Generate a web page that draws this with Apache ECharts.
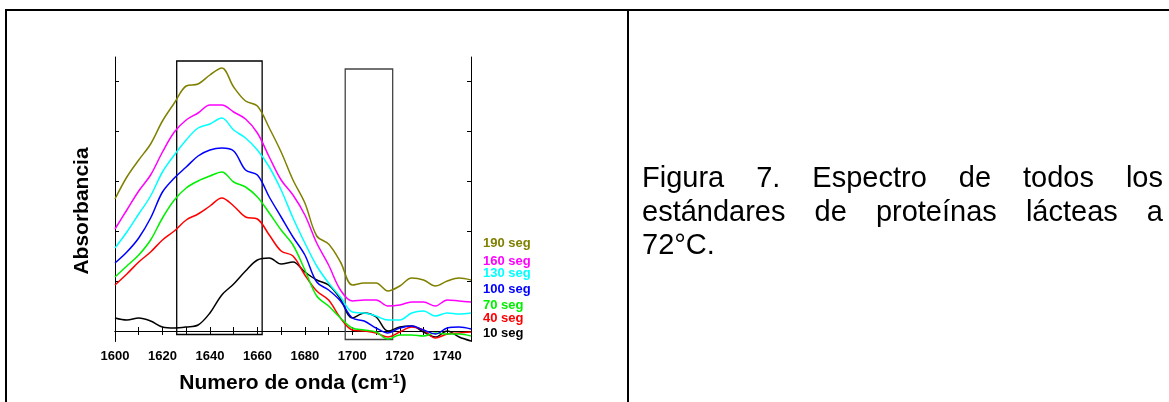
<!DOCTYPE html>
<html><head><meta charset="utf-8">
<script src="https://cdn.jsdelivr.net/npm/echarts@6/dist/echarts.min.js"></script>
<style>
html,body{margin:0;padding:0;background:#fff;width:1169px;height:402px;overflow:hidden;}
#chart{position:absolute;left:0;top:0;width:1169px;height:402px;}
.b{position:absolute;background:#000;}
.cap{position:absolute;left:642px;top:161px;width:521px;font-family:'Liberation Sans',Arial,sans-serif;font-size:29px;color:#000;line-height:33.5px;}
.cap div{text-align:justify;text-align-last:justify;white-space:nowrap;}
.cap div.last{text-align:left;text-align-last:left;}
</style></head>
<body>
<div id="chart"></div>
<div class="b" style="left:5px;top:9px;width:1164px;height:2px"></div>
<div class="b" style="left:5px;top:9px;width:2px;height:393px"></div>
<div class="b" style="left:627px;top:9px;width:2px;height:393px"></div>
<div class="cap">
<div>Figura 7. Espectro de todos los</div>
<div>estándares de proteínas lácteas a</div>
<div class="last">72°C.</div>
</div>
<script>
const wavenumbers = [1600,1605,1610,1615,1620,1625,1630,1635,1640,1645,1650,1655,1660,1665,1670,1675,1680,1685,1690,1695,1700,1705,1710,1715,1720,1725,1730,1735,1740,1745,1750];
const seg190 = [2.64,3.08,3.42,3.74,4.20,4.56,4.90,4.94,5.12,5.26,4.88,4.60,4.50,4.06,3.58,3.02,2.56,1.90,1.74,1.38,0.92,0.96,0.96,0.80,0.90,1.06,1.02,0.90,1.00,1.06,1.02];
const seg160 = [2.04,2.42,2.80,3.12,3.58,3.98,4.22,4.36,4.52,4.52,4.38,4.24,3.96,3.48,3.02,2.72,2.32,1.76,1.32,0.82,0.60,0.62,0.62,0.50,0.52,0.58,0.58,0.50,0.62,0.60,0.58];
const seg130 = [1.66,1.98,2.34,2.70,3.18,3.52,3.82,4.06,4.14,4.26,4.02,3.86,3.62,3.28,2.82,2.26,1.76,1.30,0.96,0.68,0.38,0.36,0.30,0.22,0.22,0.36,0.40,0.30,0.36,0.34,0.36];
const seg100 = [1.36,1.58,1.86,2.26,2.78,3.06,3.28,3.50,3.62,3.66,3.60,3.22,3.12,2.68,2.28,1.88,1.52,0.98,0.82,0.60,0.26,0.20,0.06,-0.04,0.06,0.10,0.02,-0.06,0.06,0.08,0.04];
const seg70 = [1.08,1.30,1.52,1.82,2.26,2.62,2.86,3.00,3.10,3.18,2.98,2.88,2.68,2.36,2.02,1.72,1.22,0.70,0.50,0.26,0.06,0.02,-0.02,-0.16,-0.08,-0.08,-0.10,-0.04,-0.06,-0.06,-0.10];
const seg40 = [0.92,1.14,1.38,1.58,1.82,2.00,2.22,2.34,2.50,2.66,2.50,2.28,2.24,1.92,1.60,1.50,1.12,0.80,0.62,0.26,0.02,0.00,-0.04,-0.12,-0.02,0.08,0.02,-0.14,-0.06,-0.04,-0.02];
const seg10 = [0.26,0.22,0.26,0.20,0.08,0.06,0.08,0.12,0.36,0.72,0.94,1.20,1.42,1.46,1.34,1.38,1.18,1.02,0.92,0.64,0.26,0.36,0.28,0.00,0.08,0.10,-0.02,-0.12,0.00,-0.12,-0.20];
const seriesNames = ['190 seg','160 seg','130 seg','100 seg','70 seg','40 seg','10 seg'];
const seriesColors = ['#808000','#ff00ff','#00ffff','#0000ff','#00f000','#ff0000','#000000'];
const seriesValues = [seg190,seg160,seg130,seg100,seg70,seg40,seg10];
const xTickLabels = [1600,1620,1640,1660,1680,1700,1720,1740];
const xMinorTicks = [1610,1630,1650,1670,1690,1710,1730,1750];
const yTicks = [0,1,2,3,4,5];
const boxes = [[1626,1662,-0.07,5.40],[1697,1717,-0.17,5.24]];
const boxColors = ['#000000','#444444'];

const legendTop = [245,263,275,291,307,320,335];
const font = "'Liberation Sans', Arial, sans-serif";

const chart = echarts.init(document.getElementById('chart'), null, {renderer:'canvas'});
const series = seriesValues.map((vals,i)=>({
  name: seriesNames[i],
  type:'line',
  xAxisIndex:0, yAxisIndex:0,
  data: wavenumbers.map((w,j)=>[w, vals[j]]),
  showSymbol:false, smooth:0.35,
  lineStyle:{width:1.5,color:seriesColors[i]},
  itemStyle:{color:seriesColors[i]},
  z: 10 - i,
  silent:true
}));
series[0].markArea = {
  silent:true,
  data: boxes.map((b,k)=>[{xAxis:b[0],yAxis:b[3],itemStyle:{color:'rgba(0,0,0,0)',borderColor:boxColors[k],borderWidth:1.3}},{xAxis:b[1],yAxis:b[2]}])
};
// minor ticks drawn as a second, hidden-line bottom axis is not possible; use major ticks on axis and minor via top axis list
const allTicks = xTickLabels.concat(xMinorTicks).sort((a,b)=>a-b);
const axisCommon = {type:'value',min:1600,max:1750,splitLine:{show:false},
  axisLine:{show:true,lineStyle:{color:'#000',width:1}}};
chart.setOption({
  animation:false,
  grid:{left:115,top:57,width:356,height:284.5,containLabel:false},
  xAxis:[
    Object.assign({},axisCommon,{position:'bottom',
      axisTick:{show:true,inside:true,length:4,customValues:allTicks,lineStyle:{color:'#000'}},
      axisLabel:{show:true,customValues:xTickLabels,margin:8,color:'#000',fontFamily:font,fontWeight:'bold',fontSize:13,
        formatter:v=>String(v)}}),
    Object.assign({},axisCommon,{position:'top',
      axisTick:{show:true,inside:true,length:4,customValues:allTicks,lineStyle:{color:'#000'}},
      axisLabel:{show:false}})
  ],
  yAxis:[
    {type:'value',min:-0.21,max:5.48,position:'left',splitLine:{show:false},
     axisLine:{show:true,onZero:false,lineStyle:{color:'#000',width:1}},
     axisTick:{show:true,inside:true,length:4,customValues:yTicks,lineStyle:{color:'#000'}},
     axisLabel:{show:false}},
    {type:'value',min:-0.21,max:5.48,position:'right',splitLine:{show:false},
     axisLine:{show:true,onZero:false,lineStyle:{color:'#000',width:1}},
     axisTick:{show:true,inside:true,length:4,customValues:yTicks,lineStyle:{color:'#000'}},
     axisLabel:{show:false}}
  ],
  series: series,
  graphic: [
    ...seriesNames.map((n,i)=>({type:'text',left:483,top:legendTop[i]-8,silent:true,
      style:{text:n,fill:seriesColors[i],font:"bold 13px "+font}})),
    {type:'text',x:82,y:211,rotation:Math.PI/2,silent:true,
      style:{text:'Absorbancia',fill:'#000',font:"bold 21px "+font,align:'center',verticalAlign:'middle'}},
    {type:'text',x:293,y:383,silent:true,
      style:{text:'Numero de onda (cm{sup|-1})',fill:'#000',font:"bold 21px "+font,align:'center',verticalAlign:'middle',
        rich:{sup:{fontSize:13,fontWeight:'bold',fontFamily:font,verticalAlign:'top',fill:'#000'}}}}
  ]
});
</script>
</body></html>
